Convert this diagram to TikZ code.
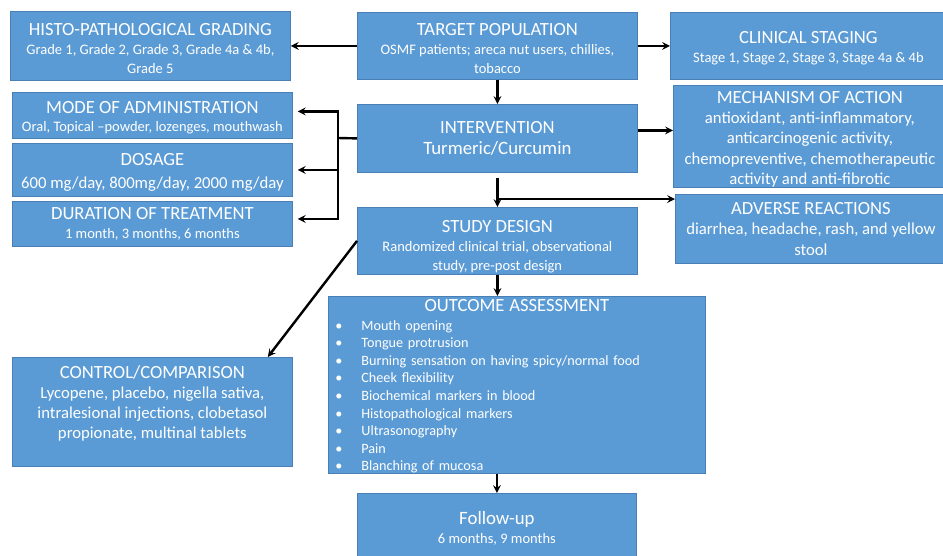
\documentclass[tikz,border=0pt]{standalone}
\usepackage{fontspec}
\setmainfont{Carlito}
\usetikzlibrary{calc}

\definecolor{boxfill}{HTML}{5B9BD5}
\definecolor{boxedge}{HTML}{4A7FB5}

% title line inside a box (with a strut, or without)
\newcommand{\hd}[1]{{\fontsize{18.6}{21}\selectfont\rule{0pt}{17pt}#1}}
\newcommand{\hdn}[1]{{\fontsize{18.6}{21}\selectfont #1}}
% one bullet item of the outcome list
\newcommand{\itm}[1]{\hspace*{7pt}\makebox[26pt][l]{\textbullet}#1}

\tikzset{
  box/.style={draw=boxedge, line width=0.8pt, fill=boxfill, text=white,
    align=center, anchor=north west, inner sep=1pt,
    font=\fontsize{14.5}{18.5}\selectfont},
  bigtxt/.style={font=\fontsize{16.7}{20.2}\selectfont},
  link/.style={->, line width=2.4pt},
}

\begin{document}
\begin{tikzpicture}[x=1pt, y=-1pt, >=stealth]
  \useasboundingbox (0,0) rectangle (943,555);

  %%%%%%%%%%%%%%%%%%%%%%%%%%%%%%%%%%%%%%%%%%%%%%%%%
  % Top row
  \node[box, minimum width=280pt, minimum height=69pt] (histo) at (10,11)
    {\hd{HISTO-PATHOLOGICAL GRADING}\\[1pt]
     Grade 1, Grade 2, Grade 3, Grade 4a \& 4b,\\ Grade 5};
  \node[box, minimum width=280pt, minimum height=67pt] (target) at (357,12)
    {\hd{TARGET POPULATION}\\[1pt]
     OSMF patients; areca nut users, chillies,\\ tobacco};
  \node[box, minimum width=276pt, minimum height=67pt] (clinical) at (670,12)
    {\hd{CLINICAL STAGING}\\[1pt]
     Stage 1, Stage 2, Stage 3, Stage 4a \& 4b};

  %%%%%%%%%%%%%%%%%%%%%%%%%%%%%%%%%%%%%%%%%%%%%%%%%
  % Left column
  \node[box, minimum width=280pt, minimum height=46pt] (mode) at (12,92)
    {\hd{MODE OF ADMINISTRATION}\\
     Oral, Topical --powder, lozenges, mouthwash};
  \node[box, bigtxt, minimum width=280pt, minimum height=53pt] (dosage) at (12,143)
    {\hd{DOSAGE}\\[3pt]
     600 mg/day, 800mg/day, 2000 mg/day};
  \node[box, minimum width=280pt, minimum height=45pt] (duration) at (12,201)
    {\hdn{DURATION OF TREATMENT}\\
     1 month, 3 months, 6 months};
  \node[box, bigtxt, minimum width=280pt, minimum height=109pt] (control) at (12,357)
    {\hd{CONTROL/COMPARISON}\\
     Lycopene, placebo, nigella sativa,\\
     intralesional injections, clobetasol\\
     propionate, multinal tablets\\[4pt]};

  %%%%%%%%%%%%%%%%%%%%%%%%%%%%%%%%%%%%%%%%%%%%%%%%%
  % Middle column
  \node[box, minimum width=280pt, minimum height=68pt] (interv) at (357,104)
    {\hdn{INTERVENTION}\\[2pt]
     {\fontsize{18.8}{21}\selectfont Turmeric/Curcumin}};
  \node[box, minimum width=280pt, minimum height=67pt] (design) at (357,207)
    {\hdn{\rule{0pt}{23pt}STUDY DESIGN}\\[1pt]
     Randomized clinical trial, observational\\ study, pre-post design};
  \node[box, align=left, text width=377pt, minimum height=173pt, inner sep=0pt,
    font=\fontsize{14.2}{17.6}\selectfont] (outcome) at (328,296)
    {\makebox[377pt]{\hdn{\rule{0pt}{15pt}OUTCOME ASSESSMENT}}\\[1pt]
     \itm{Mouth opening}\\
     \itm{Tongue protrusion}\\
     \itm{Burning sensation on having spicy/normal food}\\
     \itm{Cheek flexibility}\\
     \itm{Biochemical markers in blood}\\
     \itm{Histopathological markers}\\
     \itm{Ultrasonography}\\
     \itm{Pain}\\
     \itm{Blanching of mucosa}};
  \node[box, minimum width=279pt, minimum height=70pt] (followup) at (357,493)
    {{\fontsize{18.8}{21}\selectfont Follow-up}\\
     6 months, 9 months};

  %%%%%%%%%%%%%%%%%%%%%%%%%%%%%%%%%%%%%%%%%%%%%%%%%
  % Right column
  \node[box, bigtxt, minimum width=273pt, minimum height=102pt] (mech) at (673,85)
    {\hd{MECHANISM OF ACTION}\\
     antioxidant, anti-inflammatory,\\
     anticarcinogenic activity,\\
     chemopreventive, chemotherapeutic\\
     activity and anti-fibrotic};
  \node[box, bigtxt, minimum width=271pt, minimum height=69pt] (adverse) at (675,194)
    {\hdn{ADVERSE REACTIONS}\\
     diarrhea, headache, rash, and yellow\\ stool};

  %%%%%%%%%%%%%%%%%%%%%%%%%%%%%%%%%%%%%%%%%%%%%%%%%
  % Connectors
  \draw[link] (target.west) -- (histo.east);
  \draw[link] (target.east) -- (clinical.west);
  \draw[link] (target.south) -- (interv.north);

  % bracket to the left column
  \coordinate (brk) at (338,138);
  \draw[line width=2.4pt] (interv.west) -- (brk);
  \draw[link] (brk) |- ([xshift=5pt, yshift=4pt]mode.east);
  \draw[link] (brk) |- ([xshift=5pt]dosage.east);
  \draw[link] (brk) |- ([xshift=5pt, yshift=5pt]duration.east);

  \draw[link] ([yshift=8pt]interv.east) -- ([yshift=8pt]interv.east -| mech.west);
  \draw[link, shorten <=5pt] (interv.south) -- (design.north);
  \coordinate (split) at (497,199);
  \draw[link] (split) -- (split -| adverse.west);

  \draw[link] (design.west) -- ([xshift=-25pt]control.north east);
  \draw[link] (design.south) -- (design.south |- outcome.north);
  \draw[link] (followup.north |- outcome.south) -- (followup.north);

\end{tikzpicture}
\end{document}
